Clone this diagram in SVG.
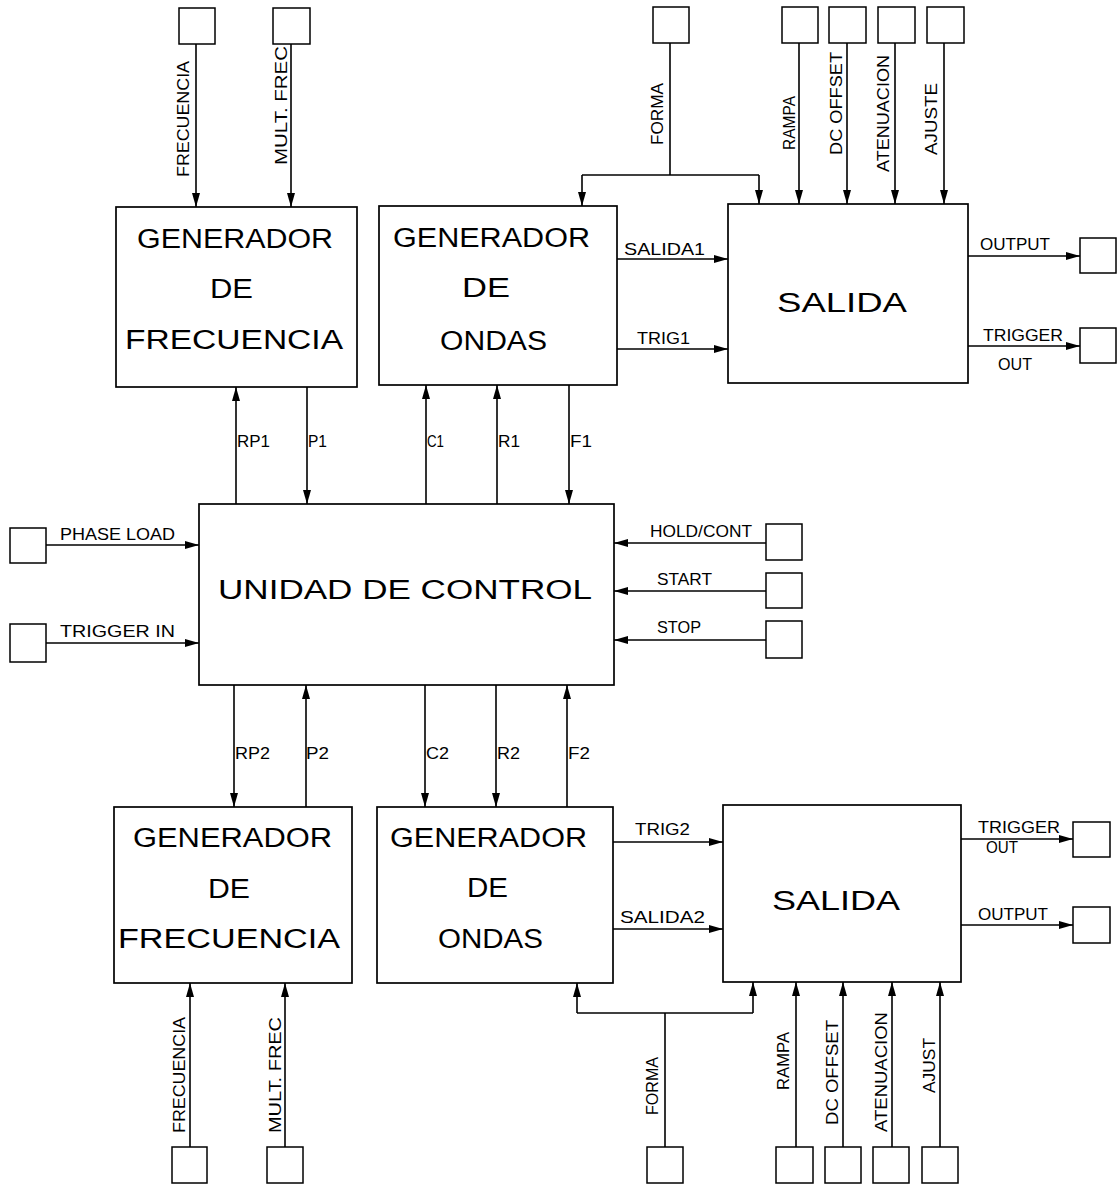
<svg xmlns="http://www.w3.org/2000/svg" width="1118" height="1185" viewBox="0 0 1118 1185">
<style>
  .box { fill: #fff; stroke: #000; stroke-width: 1.7; }
  .term { fill: #fff; stroke: #000; stroke-width: 1.5; }
  .ln { fill: none; stroke: #000; stroke-width: 1.6; }
  .arr { fill: none; stroke: #000; stroke-width: 1.6; marker-end: url(#ah); }
  .big { font-family: "Liberation Sans", Arial, sans-serif; font-size: 27px; fill: #000; }
  .lbl { font-family: "Liberation Sans", Arial, sans-serif; font-size: 17px; fill: #000; }
</style>
<defs>
  <marker id="ah" markerUnits="userSpaceOnUse" markerWidth="14" markerHeight="8" refX="14" refY="4" orient="auto">
    <path d="M0,0 L14,4 L0,8 Z" fill="#000"/>
  </marker>
</defs>
<rect width="1118" height="1185" fill="#fff"/>

<g id="connectors">
  <!-- top inputs -->
  <line class="arr" x1="196" y1="44" x2="196" y2="207"/>
  <line class="arr" x1="291" y1="44" x2="291" y2="207"/>
  <polyline class="ln" points="670,43 670,175"/>
  <line class="ln" x1="582" y1="175" x2="759" y2="175"/>
  <line class="arr" x1="582" y1="175" x2="582" y2="206"/>
  <line class="arr" x1="759" y1="175" x2="759" y2="204"/>
  <line class="arr" x1="799" y1="43" x2="799" y2="204"/>
  <line class="arr" x1="847" y1="43" x2="847" y2="204"/>
  <line class="arr" x1="895" y1="43" x2="895" y2="204"/>
  <line class="arr" x1="944" y1="43" x2="944" y2="204"/>
  <!-- top generators <-> control -->
  <line class="arr" x1="236" y1="504" x2="236" y2="387"/>
  <line class="arr" x1="307" y1="387" x2="307" y2="504"/>
  <line class="arr" x1="426" y1="504" x2="426" y2="385"/>
  <line class="arr" x1="497" y1="504" x2="497" y2="385"/>
  <line class="arr" x1="569" y1="385" x2="569" y2="504"/>
  <!-- top generator -> salida -->
  <line class="arr" x1="617" y1="259" x2="728" y2="259"/>
  <line class="arr" x1="617" y1="349" x2="728" y2="349"/>
  <line class="arr" x1="968" y1="256" x2="1080" y2="256"/>
  <line class="arr" x1="968" y1="346" x2="1080" y2="346"/>
  <!-- control inputs -->
  <line class="arr" x1="46" y1="545" x2="199" y2="545"/>
  <line class="arr" x1="46" y1="643" x2="199" y2="643"/>
  <line class="arr" x1="766" y1="543" x2="614" y2="543"/>
  <line class="arr" x1="766" y1="591" x2="614" y2="591"/>
  <line class="arr" x1="766" y1="640" x2="614" y2="640"/>
  <!-- control <-> bottom generators -->
  <line class="arr" x1="234" y1="685" x2="234" y2="807"/>
  <line class="arr" x1="306" y1="807" x2="306" y2="685"/>
  <line class="arr" x1="425" y1="685" x2="425" y2="807"/>
  <line class="arr" x1="496" y1="685" x2="496" y2="807"/>
  <line class="arr" x1="567" y1="807" x2="567" y2="685"/>
  <!-- bottom generator -> salida -->
  <line class="arr" x1="613" y1="842" x2="723" y2="842"/>
  <line class="arr" x1="613" y1="929" x2="723" y2="929"/>
  <line class="arr" x1="961" y1="839" x2="1073" y2="839"/>
  <line class="arr" x1="961" y1="925" x2="1073" y2="925"/>
  <!-- bottom inputs -->
  <line class="arr" x1="190" y1="1147" x2="190" y2="983"/>
  <line class="arr" x1="285" y1="1147" x2="285" y2="983"/>
  <line class="ln" x1="665" y1="1147" x2="665" y2="1013"/>
  <line class="ln" x1="577" y1="1013" x2="753" y2="1013"/>
  <line class="arr" x1="577" y1="1013" x2="577" y2="983"/>
  <line class="arr" x1="753" y1="1013" x2="753" y2="982"/>
  <line class="arr" x1="796" y1="1147" x2="796" y2="982"/>
  <line class="arr" x1="843" y1="1147" x2="843" y2="982"/>
  <line class="arr" x1="892" y1="1147" x2="892" y2="982"/>
  <line class="arr" x1="940" y1="1147" x2="940" y2="982"/>

  <!-- connector labels -->
  <text class="lbl" transform="translate(189,177) rotate(-90)" textLength="116" lengthAdjust="spacingAndGlyphs">FRECUENCIA</text>
  <text class="lbl" transform="translate(287,165) rotate(-90)" textLength="119" lengthAdjust="spacingAndGlyphs">MULT. FREC</text>
  <text class="lbl" transform="translate(663,145) rotate(-90)" textLength="62" lengthAdjust="spacingAndGlyphs">FORMA</text>
  <text class="lbl" transform="translate(795,150) rotate(-90)" textLength="54" lengthAdjust="spacingAndGlyphs">RAMPA</text>
  <text class="lbl" transform="translate(842,155) rotate(-90)" textLength="103" lengthAdjust="spacingAndGlyphs">DC OFFSET</text>
  <text class="lbl" transform="translate(889,172) rotate(-90)" textLength="117" lengthAdjust="spacingAndGlyphs">ATENUACION</text>
  <text class="lbl" transform="translate(937,155) rotate(-90)" textLength="72" lengthAdjust="spacingAndGlyphs">AJUSTE</text>

  <text class="lbl" x="237" y="447" textLength="33" lengthAdjust="spacingAndGlyphs">RP1</text>
  <text class="lbl" x="308" y="447" textLength="19" lengthAdjust="spacingAndGlyphs">P1</text>
  <text class="lbl" x="427" y="447" textLength="17" lengthAdjust="spacingAndGlyphs">C1</text>
  <text class="lbl" x="498" y="447" textLength="22" lengthAdjust="spacingAndGlyphs">R1</text>
  <text class="lbl" x="570" y="447" textLength="22" lengthAdjust="spacingAndGlyphs">F1</text>

  <text class="lbl" x="624" y="255" textLength="81" lengthAdjust="spacingAndGlyphs">SALIDA1</text>
  <text class="lbl" x="637" y="344" textLength="53" lengthAdjust="spacingAndGlyphs">TRIG1</text>
  <text class="lbl" x="980" y="250" textLength="70" lengthAdjust="spacingAndGlyphs">OUTPUT</text>
  <text class="lbl" x="983" y="341" textLength="80" lengthAdjust="spacingAndGlyphs">TRIGGER</text>
  <text class="lbl" x="998" y="370" textLength="34" lengthAdjust="spacingAndGlyphs">OUT</text>

  <text class="lbl" x="60" y="540" textLength="115" lengthAdjust="spacingAndGlyphs">PHASE LOAD</text>
  <text class="lbl" x="60" y="637" textLength="115" lengthAdjust="spacingAndGlyphs">TRIGGER IN</text>
  <text class="lbl" x="650" y="537" textLength="102" lengthAdjust="spacingAndGlyphs">HOLD/CONT</text>
  <text class="lbl" x="657" y="585" textLength="55" lengthAdjust="spacingAndGlyphs">START</text>
  <text class="lbl" x="657" y="633" textLength="44" lengthAdjust="spacingAndGlyphs">STOP</text>

  <text class="lbl" x="235" y="759" textLength="35" lengthAdjust="spacingAndGlyphs">RP2</text>
  <text class="lbl" x="306" y="759" textLength="23" lengthAdjust="spacingAndGlyphs">P2</text>
  <text class="lbl" x="426" y="759" textLength="23" lengthAdjust="spacingAndGlyphs">C2</text>
  <text class="lbl" x="497" y="759" textLength="23" lengthAdjust="spacingAndGlyphs">R2</text>
  <text class="lbl" x="568" y="759" textLength="22" lengthAdjust="spacingAndGlyphs">F2</text>

  <text class="lbl" x="635" y="835" textLength="55" lengthAdjust="spacingAndGlyphs">TRIG2</text>
  <text class="lbl" x="620" y="923" textLength="85" lengthAdjust="spacingAndGlyphs">SALIDA2</text>
  <text class="lbl" x="978" y="833" textLength="82" lengthAdjust="spacingAndGlyphs">TRIGGER</text>
  <text class="lbl" x="986" y="853" textLength="32" lengthAdjust="spacingAndGlyphs">OUT</text>
  <text class="lbl" x="978" y="920" textLength="70" lengthAdjust="spacingAndGlyphs">OUTPUT</text>

  <text class="lbl" transform="translate(185,1133) rotate(-90)" textLength="116" lengthAdjust="spacingAndGlyphs">FRECUENCIA</text>
  <text class="lbl" transform="translate(281,1133) rotate(-90)" textLength="116" lengthAdjust="spacingAndGlyphs">MULT. FREC</text>
  <text class="lbl" transform="translate(658,1115) rotate(-90)" textLength="58" lengthAdjust="spacingAndGlyphs">FORMA</text>
  <text class="lbl" transform="translate(789,1090) rotate(-90)" textLength="58" lengthAdjust="spacingAndGlyphs">RAMPA</text>
  <text class="lbl" transform="translate(838,1125) rotate(-90)" textLength="105" lengthAdjust="spacingAndGlyphs">DC OFFSET</text>
  <text class="lbl" transform="translate(887,1132) rotate(-90)" textLength="120" lengthAdjust="spacingAndGlyphs">ATENUACION</text>
  <text class="lbl" transform="translate(935,1093) rotate(-90)" textLength="55" lengthAdjust="spacingAndGlyphs">AJUST</text>
</g>

<g id="gen-frecuencia-1">
  <rect class="box" x="116" y="207" width="241" height="180"/>
  <text class="big" x="137" y="248" textLength="196" lengthAdjust="spacingAndGlyphs">GENERADOR</text>
  <text class="big" x="210" y="298" textLength="43" lengthAdjust="spacingAndGlyphs">DE</text>
  <text class="big" x="125" y="349" textLength="218" lengthAdjust="spacingAndGlyphs">FRECUENCIA</text>
</g>
<g id="gen-ondas-1">
  <rect class="box" x="379" y="206" width="238" height="179"/>
  <text class="big" x="393" y="247" textLength="197" lengthAdjust="spacingAndGlyphs">GENERADOR</text>
  <text class="big" x="462" y="297" textLength="48" lengthAdjust="spacingAndGlyphs">DE</text>
  <text class="big" x="440" y="350" textLength="107" lengthAdjust="spacingAndGlyphs">ONDAS</text>
</g>
<g id="salida-1">
  <rect class="box" x="728" y="204" width="240" height="179"/>
  <text class="big" x="777" y="312" textLength="130" lengthAdjust="spacingAndGlyphs">SALIDA</text>
</g>
<g id="unidad-control">
  <rect class="box" x="199" y="504" width="415" height="181"/>
  <text class="big" x="218" y="599" textLength="374" lengthAdjust="spacingAndGlyphs">UNIDAD DE CONTROL</text>
</g>
<g id="gen-frecuencia-2">
  <rect class="box" x="114" y="807" width="238" height="176"/>
  <text class="big" x="133" y="847" textLength="199" lengthAdjust="spacingAndGlyphs">GENERADOR</text>
  <text class="big" x="208" y="898" textLength="42" lengthAdjust="spacingAndGlyphs">DE</text>
  <text class="big" x="118" y="948" textLength="222" lengthAdjust="spacingAndGlyphs">FRECUENCIA</text>
</g>
<g id="gen-ondas-2">
  <rect class="box" x="377" y="807" width="236" height="176"/>
  <text class="big" x="390" y="847" textLength="197" lengthAdjust="spacingAndGlyphs">GENERADOR</text>
  <text class="big" x="467" y="897" textLength="41" lengthAdjust="spacingAndGlyphs">DE</text>
  <text class="big" x="438" y="948" textLength="105" lengthAdjust="spacingAndGlyphs">ONDAS</text>
</g>
<g id="salida-2">
  <rect class="box" x="723" y="805" width="238" height="177"/>
  <text class="big" x="772" y="910" textLength="128" lengthAdjust="spacingAndGlyphs">SALIDA</text>
</g>

<g id="terminals">
  <rect id="t-frecuencia-1" class="term" x="179" y="8" width="36" height="36"/>
  <rect id="t-multfrec-1" class="term" x="273" y="8" width="37" height="36"/>
  <rect id="t-forma-1" class="term" x="653" y="7" width="36" height="36"/>
  <rect id="t-rampa-1" class="term" x="782" y="7" width="36" height="36"/>
  <rect id="t-dcoffset-1" class="term" x="829" y="7" width="37" height="36"/>
  <rect id="t-atenuacion-1" class="term" x="878" y="7" width="37" height="36"/>
  <rect id="t-ajuste-1" class="term" x="927" y="7" width="37" height="36"/>
  <rect id="t-output-1" class="term" x="1080" y="238" width="36" height="35"/>
  <rect id="t-trigout-1" class="term" x="1080" y="328" width="36" height="35"/>
  <rect id="t-phaseload" class="term" x="10" y="528" width="36" height="35"/>
  <rect id="t-triggerin" class="term" x="10" y="624" width="36" height="38"/>
  <rect id="t-holdcont" class="term" x="766" y="524" width="36" height="36"/>
  <rect id="t-start" class="term" x="766" y="573" width="36" height="35"/>
  <rect id="t-stop" class="term" x="766" y="621" width="36" height="37"/>
  <rect id="t-trigout-2" class="term" x="1073" y="822" width="37" height="35"/>
  <rect id="t-output-2" class="term" x="1073" y="907" width="37" height="36"/>
  <rect id="t-frecuencia-2" class="term" x="172" y="1147" width="35" height="36"/>
  <rect id="t-multfrec-2" class="term" x="267" y="1147" width="36" height="36"/>
  <rect id="t-forma-2" class="term" x="647" y="1147" width="36" height="36"/>
  <rect id="t-rampa-2" class="term" x="776" y="1147" width="37" height="36"/>
  <rect id="t-dcoffset-2" class="term" x="825" y="1147" width="36" height="36"/>
  <rect id="t-atenuacion-2" class="term" x="873" y="1147" width="36" height="36"/>
  <rect id="t-ajust-2" class="term" x="922" y="1147" width="36" height="36"/>
</g>
</svg>
